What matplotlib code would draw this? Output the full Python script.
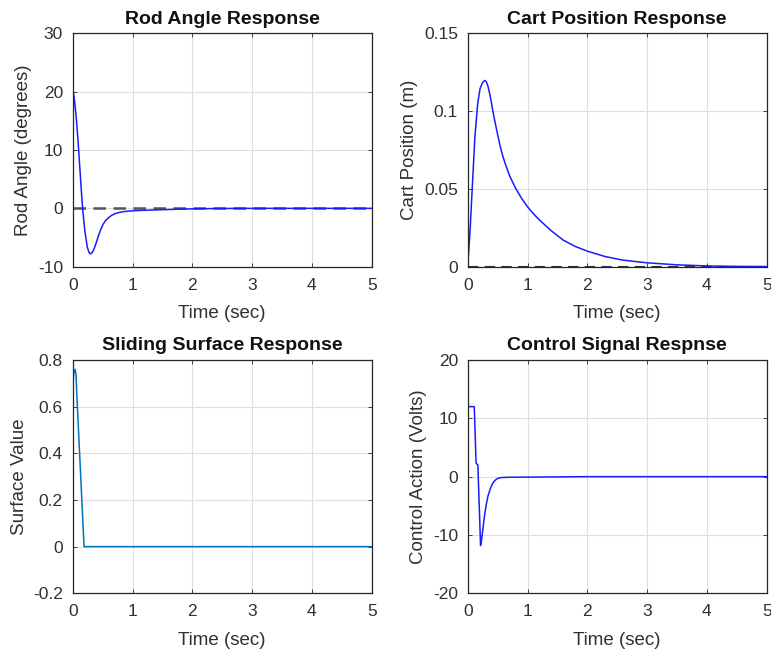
import matplotlib
matplotlib.use("Agg")
import matplotlib.pyplot as plt

plt.rcParams['font.family'] = ['Liberation Sans', 'DejaVu Sans']
plt.rcParams['axes.unicode_minus'] = False

# ---- data ----
rod_t = [0, 0.015, 0.03, 0.06, 0.09, 0.12, 0.15, 0.17, 0.206, 0.245, 0.275, 0.30,
         0.325, 0.355, 0.39, 0.43, 0.47, 0.51, 0.55, 0.60, 0.65, 0.71, 0.78, 0.85,
         1.01, 1.28, 1.6, 2.0, 2.5, 3.0, 5.0]
rod_v = [20, 19.6, 18.5, 15.5, 11.5, 6.8, 2.2, -0.5, -4.1, -6.7, -7.6, -7.8,
         -7.6, -7.0, -6.0, -4.7, -3.6, -2.7, -2.1, -1.6, -1.2, -0.9, -0.7, -0.56,
         -0.4, -0.3, -0.2, -0.08, -0.02, 0, 0]

cart_t = [0, 0.04, 0.077, 0.12, 0.167, 0.206, 0.245, 0.27, 0.29, 0.31, 0.335, 0.36,
          0.39, 0.42, 0.457, 0.5, 0.54, 0.58, 0.625, 0.7, 0.8, 0.9, 1.0, 1.1, 1.2,
          1.4, 1.6, 1.8, 2.0, 2.3, 2.6, 3.0, 3.5, 4.0, 4.5, 5.0]
cart_v = [0, 0.0235, 0.0513, 0.0833, 0.1047, 0.1144, 0.118, 0.1192, 0.1197, 0.1190,
          0.1165, 0.1125, 0.107, 0.100, 0.093, 0.085, 0.078, 0.072, 0.0665, 0.0585,
          0.0505, 0.0440, 0.0385, 0.034, 0.030, 0.023, 0.017, 0.013, 0.010, 0.0065,
          0.0042, 0.0025, 0.0012, 0.0005, 0.0002, 0.0001]

surf_t = [0, 0.02, 0.04, 0.055, 0.07, 0.19, 0.2, 5.0]
surf_v = [0.70, 0.745, 0.76, 0.74, 0.645, 0.0, 0.0, 0.0]

ctrl_t = [0, 0.11, 0.14, 0.17, 0.215, 0.23, 0.25, 0.28, 0.31, 0.34, 0.38, 0.42,
          0.46, 0.5, 0.56, 0.7, 1.0, 2.0, 5.0]
ctrl_v = [12, 12, 2.3, 2.0, -11.8, -11.0, -9.3, -6.8, -4.8, -3.3, -2.0, -1.1,
          -0.6, -0.3, -0.15, -0.1, -0.08, 0, 0]

ref_t = [0, 5]
ref_v = [0, 0]

x_ticks = [0, 1, 2, 3, 4, 5]
rod_yticks = [-10, 0, 10, 20, 30]
cart_yticks = [0, 0.05, 0.1, 0.15]
cart_ylabels = ['0', '0.05', '0.1', '0.15']
surf_yticks = [-0.2, 0, 0.2, 0.4, 0.6, 0.8]
surf_ylabels = ['-0.2', '0', '0.2', '0.4', '0.6', '0.8']
ctrl_yticks = [-20, -10, 0, 10, 20]

titles = ['Rod Angle Response', 'Cart Position Response',
          'Sliding Surface Response', 'Control Signal Respnse']
ylabels = ['Rod Angle (degrees)', 'Cart Position (m)', 'Surface Value',
           'Control Action (Volts)']
xlabel = 'Time (sec)'

# ---- figure ----
fig = plt.figure(figsize=(7.71, 6.53), dpi=100)
W, H = 771, 653
def pos(l, t, r, b):
    return [l / W, 1 - b / H, (r - l) / W, (b - t) / H]

axes = [
    fig.add_axes(pos(72.7, 33.3, 371.7, 266.7)),
    fig.add_axes(pos(467.7, 33.3, 766.7, 266.7)),
    fig.add_axes(pos(72.7, 360.0, 371.7, 593.3)),
    fig.add_axes(pos(467.7, 360.0, 766.7, 593.3)),
]

txt = '#303030'

def style(ax, title, ylab):
    ax.set_xlim(0, 5)
    ax.set_xticks(x_ticks)
    ax.grid(True, color='#dedede', linewidth=0.8)
    ax.set_axisbelow(True)
    for s in ax.spines.values():
        s.set_color('#262626')
        s.set_linewidth(0.9)
    ax.tick_params(direction='in', length=3, width=0.6, colors='#262626',
                   labelsize=12.5, labelcolor=txt, top=True, right=True)
    ax.tick_params(axis='x', pad=8)
    ax.tick_params(axis='y', pad=7)
    ax.set_title(title, fontsize=14, fontweight='bold', pad=7, color='#111111')
    ax.set_xlabel(xlabel, fontsize=13.5, color=txt, labelpad=9)
    ax.set_ylabel(ylab, fontsize=13.5, color=txt, labelpad=4)

blue = '#1a1aff'

ax = axes[0]
ax.plot(ref_t, ref_v, color='#555555', linestyle=(0, (5, 3)), linewidth=1.8)
ax.plot(rod_t, rod_v, color=blue, linewidth=1.1)
ax.set_ylim(-10, 30)
ax.set_yticks(rod_yticks)
style(ax, titles[0], ylabels[0])

ax = axes[1]
ax.plot(ref_t, ref_v, color='#333333', linestyle=(0, (5, 3)), linewidth=1.5)
ax.plot(cart_t, cart_v, color=blue, linewidth=1.1)
ax.set_ylim(0, 0.15)
ax.set_yticks(cart_yticks)
ax.set_yticklabels(cart_ylabels)
style(ax, titles[1], ylabels[1])

ax = axes[2]
ax.plot(surf_t, surf_v, color='#0072BD', linewidth=1.1)
ax.set_ylim(-0.2, 0.8)
ax.set_yticks(surf_yticks)
ax.set_yticklabels(surf_ylabels)
style(ax, titles[2], ylabels[2])

ax = axes[3]
ax.plot(ctrl_t, ctrl_v, color=blue, linewidth=1.1)
ax.set_ylim(-20, 20)
ax.set_yticks(ctrl_yticks)
style(ax, titles[3], ylabels[3])

fig.savefig('out.png', dpi=100)
